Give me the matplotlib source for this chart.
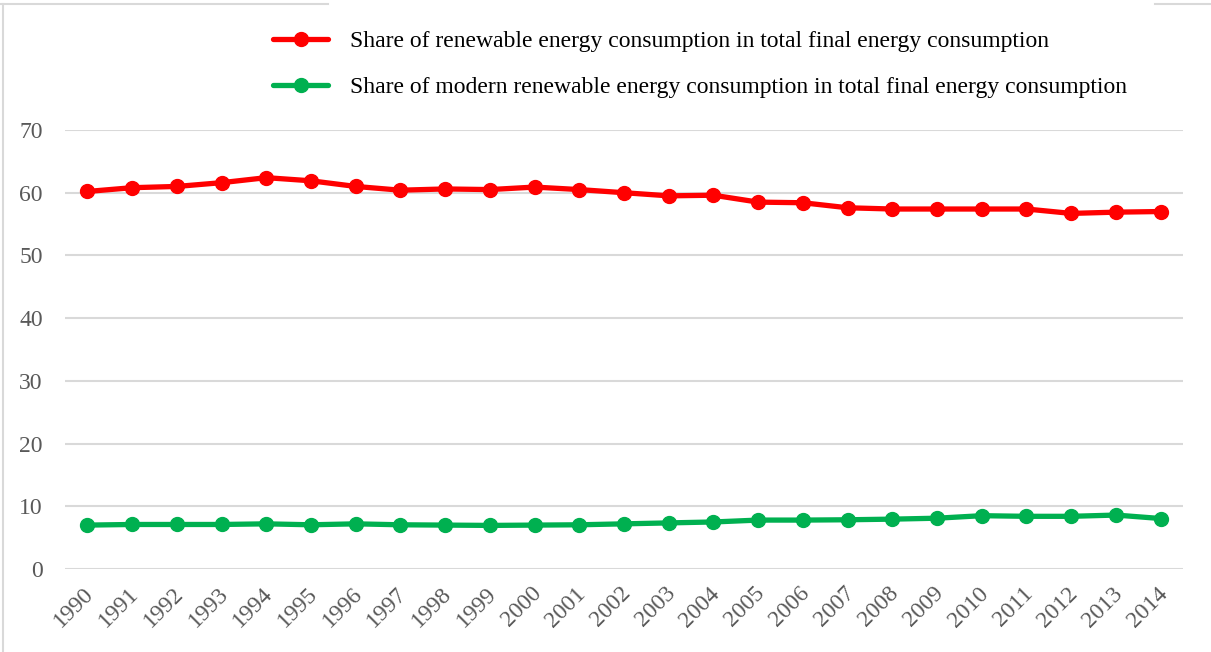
import matplotlib.pyplot as plt
import matplotlib.transforms as mtransforms
from matplotlib.lines import Line2D

plt.rcParams['font.family'] = ['Liberation Serif', 'DejaVu Serif']

years = [str(y) for y in range(1990, 2015)]
renewable = [60.2, 60.8, 61.0, 61.6, 62.4, 61.9, 61.0, 60.4, 60.6, 60.5,
             60.9, 60.5, 60.0, 59.5, 59.6, 58.5, 58.4, 57.6, 57.4, 57.4,
             57.4, 57.4, 56.7, 56.9, 57.0]
modern = [7.0, 7.1, 7.1, 7.1, 7.2, 7.05, 7.2, 7.05, 7.0, 6.95,
          7.0, 7.05, 7.2, 7.35, 7.5, 7.8, 7.8, 7.85, 7.95, 8.1,
          8.5, 8.4, 8.4, 8.6, 8.05]
labels = ['Share of renewable energy consumption in total final energy consumption',
          'Share of modern renewable energy consumption in total final energy consumption']

FS = 17
W, H = 1211, 652
fig = plt.figure(figsize=(W / 100, H / 100), dpi=100)
ax = fig.add_axes([65 / W, 1 - 569 / H, (1183 - 65) / W, (569 - 130) / H])

x = range(len(years))
ax.plot(x, renewable, color='#ff0000', lw=3.8, marker='o', ms=10,
        label=labels[0], solid_capstyle='round')
ax.plot(x, modern, color='#00b050', lw=3.8, marker='o', ms=10,
        label=labels[1], solid_capstyle='round')

ax.set_xlim(-0.5, len(years) - 0.5)
ax.set_ylim(0, 70)
ax.set_yticks(range(0, 71, 10))
ax.set_xticks(list(x))
ax.set_xticklabels(years, rotation=45, ha='right', va='top',
                   rotation_mode='anchor')
ax.grid(axis='y', color='#d9d9d9', lw=1.5)
ax.set_axisbelow(True)
for s in ax.spines.values():
    s.set_visible(False)
ax.tick_params(length=0, labelsize=FS, labelcolor='#595959')
ax.tick_params(axis='y', pad=16)
ax.tick_params(axis='x', pad=10)
shift = mtransforms.ScaledTranslation(-4 / 100, 0, fig.dpi_scale_trans)
for lab in ax.get_xticklabels():
    lab.set_transform(lab.get_transform() + shift)

# chart border (left and top, broken by the legend)
bc = '#d9d9d9'
fig.add_artist(Line2D([3 / W, 3 / W], [0, 1 - 4 / H], color=bc, lw=1.5))
fig.add_artist(Line2D([0, 328 / W], [1 - 4 / H, 1 - 4 / H], color=bc, lw=1.5))
fig.add_artist(Line2D([1155 / W, 1], [1 - 4 / H, 1 - 4 / H], color=bc, lw=1.5))

fig.legend(loc='upper left', bbox_to_anchor=(252 / W, 1 - 9 / H),
           frameon=False, fontsize=FS, handlelength=2.33, handletextpad=0.9,
           labelspacing=1.05)

fig.savefig('out.png', dpi=100)
